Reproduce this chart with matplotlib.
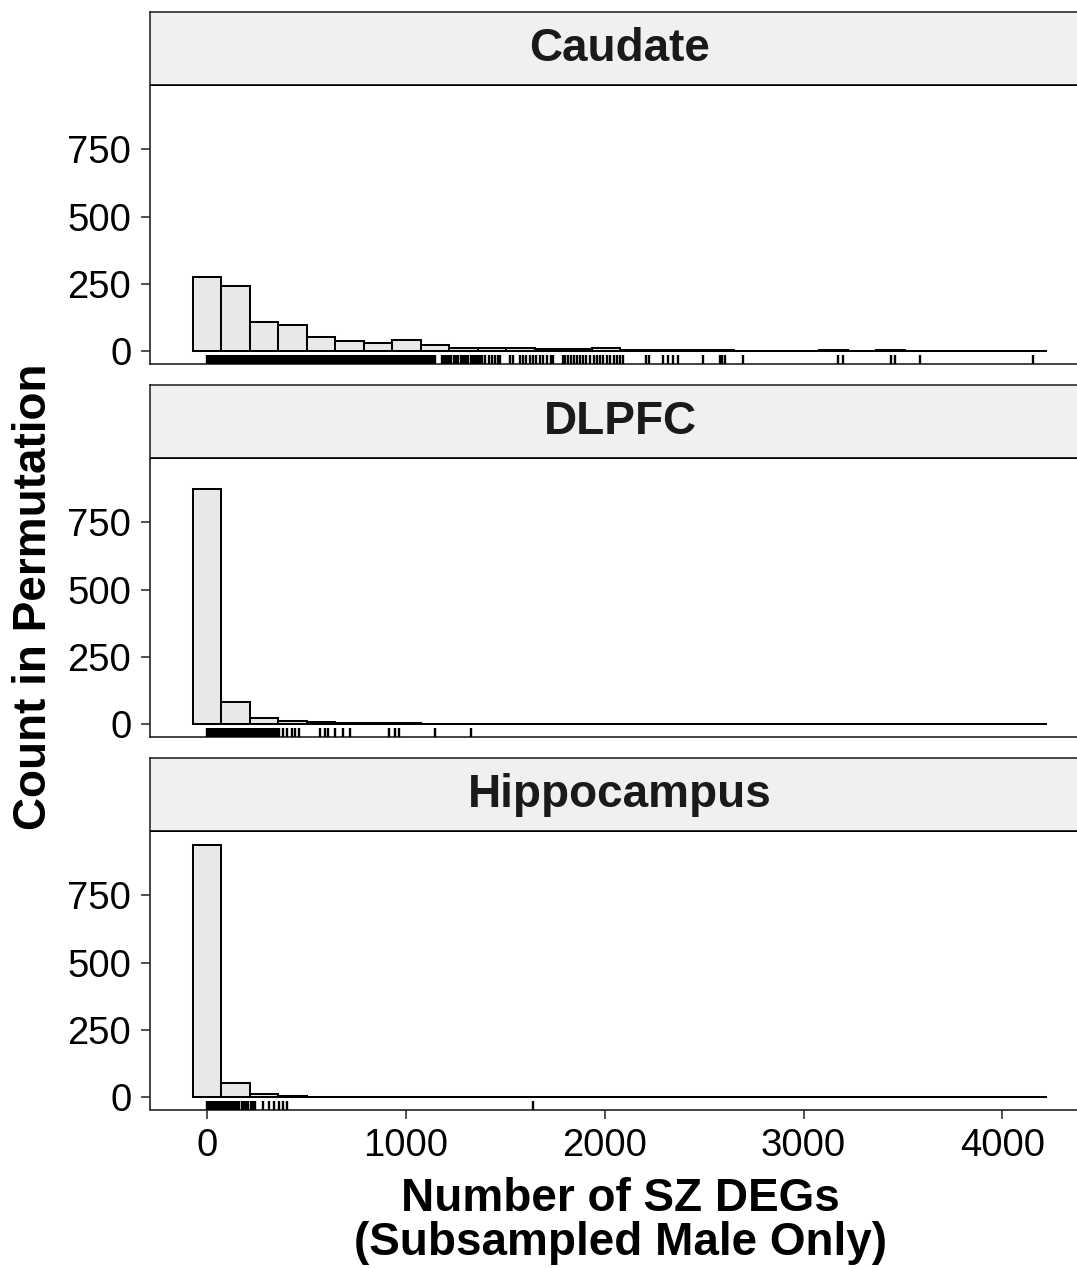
import matplotlib
matplotlib.use("Agg")
import matplotlib.pyplot as plt
import numpy as np

plt.rcParams['font.family'] = ['Liberation Sans', 'DejaVu Sans']

# ---------------- data ----------------
regions = ["Caudate", "DLPFC", "Hippocampus"]

caudate_counts = [276, 241, 106, 95, 51, 36, 28, 41, 21, 12, 11, 10, 6, 7, 11,
                  5, 4, 2, 3, 1, 0, 0, 2, 0, 2, 1, 0, 0, 0, 1]
dlpfc_counts = [875, 83, 21, 12, 6, 3, 2, 2, 1, 1, 0, 0, 0, 0, 0,
                0, 0, 0, 0, 0, 0, 0, 0, 0, 0, 0, 0, 0, 0, 0]
hippo_counts = [939, 51, 11, 5, 0, 0, 0, 0, 0, 0, 0, 1, 0, 0, 0,
                0, 0, 0, 0, 0, 0, 0, 0, 0, 0, 0, 0, 0, 0, 0]

caudate_rug = [0, 7, 13, 20, 27, 34, 41, 47, 54, 61, 68, 75, 81, 88, 95, 102,
               109, 115, 122, 129, 136, 143, 149, 156, 163, 170, 177, 183, 190,
               197, 204, 211, 217, 224, 231, 238, 245, 251, 258, 265, 272, 279,
               285, 292, 299, 306, 313, 319, 326, 333, 340, 347, 353, 360, 367,
               374, 381, 387, 394, 401, 408, 415, 421, 428, 435, 442, 449, 455,
               462, 469, 476, 483, 489, 496, 503, 510, 517, 523, 530, 537, 544,
               551, 557, 564, 571, 578, 585, 591, 598, 605, 612, 619, 625, 632,
               639, 646, 653, 659, 666, 673, 680, 687, 693, 700, 707, 714, 721,
               727, 734, 741, 748, 755, 761, 768, 775, 782, 789, 795, 802, 812,
               822, 831, 840, 848, 855, 862, 869, 876, 883, 889, 896, 903, 910,
               917, 923, 930, 937, 944, 951, 957, 964, 971, 978, 985, 991, 998,
               1005, 1012, 1019, 1025, 1032, 1039, 1046, 1053, 1059, 1066, 1073,
               1080, 1087, 1093, 1100, 1107, 1114, 1121, 1127, 1134, 1141, 1147,
               1181, 1190, 1199, 1208, 1217, 1228, 1240, 1251, 1262, 1275, 1284,
               1292, 1302, 1315, 1326, 1334, 1342, 1352, 1363, 1373, 1385, 1398,
               1420, 1432, 1450, 1462, 1474, 1524, 1538, 1574, 1590, 1604, 1625,
               1640, 1655, 1675, 1690, 1712, 1730, 1740, 1790, 1802, 1815, 1830,
               1845, 1860, 1875, 1890, 1905, 1925, 1945, 1960, 1975, 1990, 2010,
               2028, 2045, 2060, 2078, 2092, 2210, 2224, 2295, 2320, 2345, 2368,
               2495, 2580, 2592, 2605, 2696, 3174, 3196, 3442, 3458, 3588, 4154]

dlpfc_rug = [0, 7, 14, 21, 28, 35, 42, 49, 56, 63, 70, 77, 84, 91, 98, 105,
             112, 119, 126, 133, 140, 147, 154, 161, 168, 175, 182, 189, 196,
             203, 210, 217, 224, 231, 238, 245, 252, 260, 268, 276, 284, 292,
             300, 308, 316, 325, 334, 342, 350, 364, 380, 402, 427, 444, 464,
             569, 595, 611, 645, 686, 720, 913, 946, 966, 1147, 1328]

hippo_rug = [0, 7, 14, 21, 28, 35, 42, 49, 56, 63, 70, 77, 84, 91, 98, 105,
             112, 119, 128, 136, 146, 154, 162, 178, 186, 198, 206, 220, 232,
             242, 283, 310, 335, 360, 382, 402, 1641]

counts = [caudate_counts, dlpfc_counts, hippo_counts]
rugs = [caudate_rug, dlpfc_rug, hippo_rug]

y_ticks = [0, 250, 500, 750]
x_ticks = [0, 1000, 2000, 3000, 4000]

# ---------------- layout ----------------
W, H = 1077, 1268
fig = plt.figure(figsize=(W / 100, H / 100), dpi=100)

def fx(px):
    return px / W

def fy(py):
    return 1 - py / H

left_px, right_px = 150, 1090
strip_h, plot_h, gap = 74, 277.5, 21.5
top0 = 12

# bins like ggplot (bins = 30)
all_vals = np.concatenate([np.asarray(r, float) for r in rugs])
vmin, vmax = all_vals.min(), all_vals.max()
nb = len(caudate_counts)
bw = (vmax - vmin) / (nb - 1)
edges = vmin - bw / 2 + bw * np.arange(nb + 1)
centers = (edges[:-1] + edges[1:]) / 2
xr = edges[-1] - edges[0]
xlim = (edges[0] - 0.05 * xr, edges[-1] + 0.05 * xr)
ymax = max(max(c) for c in counts)
ylim = (-0.05 * ymax, 1.05 * ymax)

fs_tick = 27.5
fs_title = 33

for i, (name, cnt, rug) in enumerate(zip(regions, counts, rugs)):
    s_top = top0 + i * (strip_h + plot_h + gap)
    s_bot = s_top + strip_h
    p_bot = s_bot + plot_h

    # strip
    sax = fig.add_axes([fx(left_px), fy(s_bot), fx(right_px - left_px), strip_h / H])
    sax.set_facecolor('#F0F0F0')
    sax.set_xticks([])
    sax.set_yticks([])
    for sp in ['top', 'left', 'right']:
        sax.spines[sp].set_linewidth(1.1)
        sax.spines[sp].set_color('#1a1a1a')
    sax.spines['bottom'].set_linewidth(2.6)
    sax.spines['bottom'].set_color('black')
    sax.spines['bottom'].set_capstyle('butt')
    sax.text(0.5, 0.5, name, transform=sax.transAxes, ha='center', va='center',
             fontsize=fs_title, fontweight='bold', color='#1a1a1a')

    # panel
    ax = fig.add_axes([fx(left_px), fy(p_bot), fx(right_px - left_px), plot_h / H])
    ax.bar(centers, cnt, width=bw, color='#E8E8E8', edgecolor='black',
           linewidth=1.45, align='center', zorder=2)
    ax.vlines(rug, 0, 0.03, transform=ax.get_xaxis_transform(), colors='black',
              linewidth=1.7, zorder=3)
    ax.set_xlim(*xlim)
    ax.set_ylim(*ylim)
    ax.set_yticks(y_ticks)
    ax.set_yticklabels([str(t) for t in y_ticks])
    ax.spines['top'].set_visible(False)
    ax.spines['right'].set_visible(False)
    for sp in ['left', 'bottom']:
        ax.spines[sp].set_linewidth(1.2)
        ax.spines[sp].set_color('#222222')
    ax.tick_params(axis='y', length=6.5, width=1.1, labelsize=fs_tick, pad=7,
                   colors='#222222', labelcolor='black')
    if i == len(regions) - 1:
        ax.set_xticks(x_ticks)
        ax.set_xticklabels([str(t) for t in x_ticks])
        ax.tick_params(axis='x', length=6.5, width=1.1, labelsize=fs_tick, pad=7,
                       colors='#222222', labelcolor='black')
    else:
        ax.set_xticks([])

# axis titles
fig.text(fx((left_px + right_px) / 2), fy(1221), "Number of SZ DEGs\n(Subsampled Male Only)",
         ha='center', va='center', fontsize=fs_title, fontweight='bold',
         linespacing=1.0, color='black')
fig.text(fx(34), fy(597), "Count in Permutation", rotation=90, ha='center', va='center',
         fontsize=fs_title, fontweight='bold', color='black')

fig.savefig("out.png", dpi=100)
